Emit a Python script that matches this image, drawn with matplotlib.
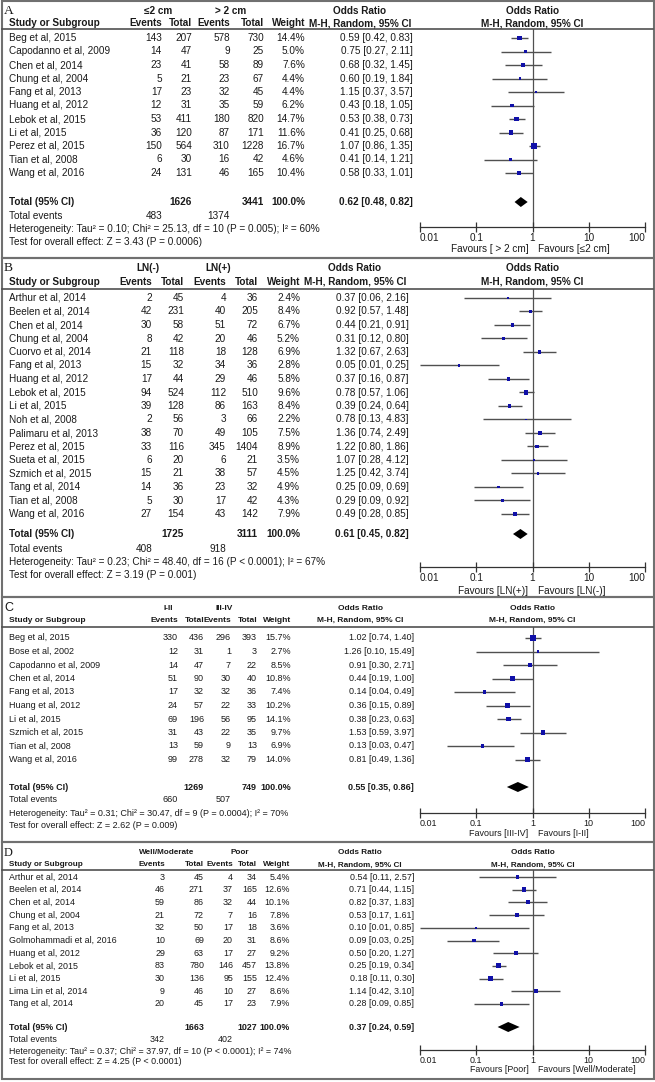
import numpy as np
import matplotlib.pyplot as plt
from matplotlib.patches import Rectangle
from matplotlib.ticker import NullLocator

plt.rcParams['font.family'] = ['Liberation Sans', 'DejaVu Sans']

# ---------------- data ----------------
# A: tumour size
a_study = ['Beg et al, 2015', 'Capodanno et al, 2009', 'Chen et al, 2014', 'Chung et al, 2004',
           'Fang et al, 2013', 'Huang et al, 2012', 'Lebok et al, 2015', 'Li et al, 2015',
           'Perez et al, 2015', 'Tian et al, 2008', 'Wang et al, 2016']
a_ev1 = [143, 14, 23, 5, 17, 12, 53, 36, 150, 6, 24]
a_tot1 = [207, 47, 41, 21, 23, 31, 411, 120, 564, 30, 131]
a_ev2 = [578, 9, 58, 23, 32, 35, 180, 87, 310, 16, 46]
a_tot2 = [730, 25, 89, 67, 45, 59, 820, 171, 1228, 42, 165]
a_w = [14.4, 5.0, 7.6, 4.4, 4.4, 6.2, 14.7, 11.6, 16.7, 4.6, 10.4]
a_or = [0.59, 0.75, 0.68, 0.60, 1.15, 0.43, 0.53, 0.41, 1.07, 0.41, 0.58]
a_lo = [0.42, 0.27, 0.32, 0.19, 0.37, 0.18, 0.38, 0.25, 0.86, 0.14, 0.33]
a_hi = [0.83, 2.11, 1.45, 1.84, 3.57, 1.05, 0.73, 0.68, 1.35, 1.21, 1.01]
a_total = [1626, 3441, 483, 1374, 0.62, 0.48, 0.82]
a_groups = ['≤2 cm', '> 2 cm']
a_het = 'Heterogeneity: Tau² = 0.10; Chi² = 25.13, df = 10 (P = 0.005); I² = 60%'
a_test = 'Test for overall effect: Z = 3.43 (P = 0.0006)'
a_fav = ['Favours [ > 2 cm]', 'Favours [≤2 cm]']

# B: lymph node status
b_study = ['Arthur et al, 2014', 'Beelen et al, 2014', 'Chen et al, 2014', 'Chung et al, 2004',
           'Cuorvo et al, 2014', 'Fang et al, 2013', 'Huang et al, 2012', 'Lebok et al, 2015',
           'Li et al, 2015', 'Noh et al, 2008', 'Palimaru et al, 2013', 'Perez et al, 2015',
           'Sueta et al, 2015', 'Szmich et al, 2015', 'Tang et al, 2014', 'Tian et al, 2008',
           'Wang et al, 2016']
b_ev1 = [2, 42, 30, 8, 21, 15, 17, 94, 39, 2, 38, 33, 6, 15, 14, 5, 27]
b_tot1 = [45, 231, 58, 42, 118, 32, 44, 524, 128, 56, 70, 116, 20, 21, 36, 30, 154]
b_ev2 = [4, 40, 51, 20, 18, 34, 29, 112, 86, 3, 49, 345, 6, 38, 23, 17, 43]
b_tot2 = [36, 205, 72, 46, 128, 36, 46, 510, 163, 66, 105, 1404, 21, 57, 32, 42, 142]
b_w = [2.4, 8.4, 6.7, 5.2, 6.9, 2.8, 5.8, 9.6, 8.4, 2.2, 7.5, 8.9, 3.5, 4.5, 4.9, 4.3, 7.9]
b_or = [0.37, 0.92, 0.44, 0.31, 1.32, 0.05, 0.37, 0.78, 0.39, 0.78, 1.36, 1.22, 1.07, 1.25, 0.25, 0.29, 0.49]
b_lo = [0.06, 0.57, 0.21, 0.12, 0.67, 0.01, 0.16, 0.57, 0.24, 0.13, 0.74, 0.80, 0.28, 0.42, 0.09, 0.09, 0.28]
b_hi = [2.16, 1.48, 0.91, 0.80, 2.63, 0.25, 0.87, 1.06, 0.64, 4.83, 2.49, 1.86, 4.12, 3.74, 0.69, 0.92, 0.85]
b_total = [1725, 3111, 408, 918, 0.61, 0.45, 0.82]
b_groups = ['LN(-)', 'LN(+)']
b_het = 'Heterogeneity: Tau² = 0.23; Chi² = 48.40, df = 16 (P < 0.0001); I² = 67%'
b_test = 'Test for overall effect: Z = 3.19 (P = 0.001)'
b_fav = ['Favours [LN(+)]', 'Favours [LN(-)]']

# C: stage
c_study = ['Beg et al, 2015', 'Bose et al, 2002', 'Capodanno et al, 2009', 'Chen et al, 2014',
           'Fang et al, 2013', 'Huang et al, 2012', 'Li et al, 2015', 'Szmich et al, 2015',
           'Tian et al, 2008', 'Wang et al, 2016']
c_ev1 = [330, 12, 14, 51, 17, 24, 69, 31, 13, 99]
c_tot1 = [436, 31, 47, 90, 32, 57, 196, 43, 59, 278]
c_ev2 = [296, 1, 7, 30, 32, 22, 56, 22, 9, 32]
c_tot2 = [393, 3, 22, 40, 36, 33, 95, 35, 13, 79]
c_w = [15.7, 2.7, 8.5, 10.8, 7.4, 10.2, 14.1, 9.7, 6.9, 14.0]
c_or = [1.02, 1.26, 0.91, 0.44, 0.14, 0.36, 0.38, 1.53, 0.13, 0.81]
c_lo = [0.74, 0.10, 0.30, 0.19, 0.04, 0.15, 0.23, 0.59, 0.03, 0.49]
c_hi = [1.40, 15.49, 2.71, 1.00, 0.49, 0.89, 0.63, 3.97, 0.47, 1.36]
c_total = [1269, 749, 660, 507, 0.55, 0.35, 0.86]
c_groups = ['I-II', 'III-IV']
c_het = 'Heterogeneity: Tau² = 0.31; Chi² = 30.47, df = 9 (P = 0.0004); I² = 70%'
c_test = 'Test for overall effect: Z = 2.62 (P = 0.009)'
c_fav = ['Favours [III-IV]', 'Favours [I-II]']

# D: differentiation
d_study = ['Arthur et al, 2014', 'Beelen et al, 2014', 'Chen et al, 2014', 'Chung et al, 2004',
           'Fang et al, 2013', 'Golmohammadi et al, 2016', 'Huang et al, 2012', 'Lebok et al, 2015',
           'Li et al, 2015', 'Lima Lin et al, 2014', 'Tang et al, 2014']
d_ev1 = [3, 46, 59, 21, 32, 10, 29, 83, 30, 9, 20]
d_tot1 = [45, 271, 86, 72, 50, 69, 63, 780, 136, 46, 45]
d_ev2 = [4, 37, 32, 7, 17, 20, 17, 146, 95, 10, 17]
d_tot2 = [34, 165, 44, 16, 18, 31, 27, 457, 155, 27, 23]
d_w = [5.4, 12.6, 10.1, 7.8, 3.6, 8.6, 9.2, 13.8, 12.4, 8.6, 7.9]
d_or = [0.54, 0.71, 0.82, 0.53, 0.10, 0.09, 0.50, 0.25, 0.18, 1.14, 0.28]
d_lo = [0.11, 0.44, 0.37, 0.17, 0.01, 0.03, 0.20, 0.19, 0.11, 0.42, 0.09]
d_hi = [2.57, 1.15, 1.83, 1.61, 0.85, 0.25, 1.27, 0.34, 0.30, 3.10, 0.85]
d_total = [1663, 1027, 342, 402, 0.37, 0.24, 0.59]
d_groups = ['Well/Moderate', 'Poor']
d_het = 'Heterogeneity: Tau² = 0.37; Chi² = 37.97, df = 10 (P < 0.0001); I² = 74%'
d_test = 'Test for overall effect: Z = 4.25 (P < 0.0001)'
d_fav = ['Favours [Poor]', 'Favours [Well/Moderate]']

panels = [
    dict(label='A', study=a_study, ev1=a_ev1, tot1=a_tot1, ev2=a_ev2, tot2=a_tot2, w=a_w,
         orr=a_or, lo=a_lo, hi=a_hi, total=a_total, groups=a_groups, het=a_het, test=a_test, fav=a_fav),
    dict(label='B', study=b_study, ev1=b_ev1, tot1=b_tot1, ev2=b_ev2, tot2=b_tot2, w=b_w,
         orr=b_or, lo=b_lo, hi=b_hi, total=b_total, groups=b_groups, het=b_het, test=b_test, fav=b_fav),
    dict(label='C', study=c_study, ev1=c_ev1, tot1=c_tot1, ev2=c_ev2, tot2=c_tot2, w=c_w,
         orr=c_or, lo=c_lo, hi=c_hi, total=c_total, groups=c_groups, het=c_het, test=c_test, fav=c_fav),
    dict(label='D', study=d_study, ev1=d_ev1, tot1=d_tot1, ev2=d_ev2, tot2=d_tot2, w=d_w,
         orr=d_or, lo=d_lo, hi=d_hi, total=d_total, groups=d_groups, het=d_het, test=d_test, fav=d_fav),
]

# ---------------- layout (pixels) ----------------
layouts = [
    dict(box=(1, 258), lab=11, head=23, line=29, row0=38, step=13.5, tot=202, ev=216, het=229,
         test=242, axis=227, fav=22, fs=7.2, hfs=7.2, cols=[162, 192, 230, 264, 305, 413],
         g=[158, 231], orh=360, labfam='Liberation Serif'),
    dict(box=(258, 597), lab=268, head=282, line=289, row0=298, step=13.5, tot=534, ev=549, het=562,
         test=575, axis=567, fav=24, fs=7.2, hfs=7.2, cols=[152, 184, 226, 258, 300, 409],
         g=[148, 218], orh=355, labfam='Liberation Serif'),
    dict(box=(597, 842), lab=608, head=620, line=627, row0=638, step=13.5, tot=787, ev=800, het=813,
         test=826, axis=813, fav=20, fs=6.5, hfs=6.0, cols=[178, 204, 231, 257, 291, 414],
         g=[168, 224], orh=360, labfam='Liberation Sans'),
    dict(box=(842, 1079), lab=853, head=865, line=870, row0=877, step=12.7, tot=1027, ev=1040, het=1051,
         test=1062, axis=1050, fav=20, fs=6.4, hfs=5.9, cols=[165, 204, 233, 257, 290, 414],
         g=[167, 240], orh=360, labfam='Liberation Serif'),
]

W, H = 655, 1082
X0, X1 = 420, 645        # forest plot x-range in pixels (0.01 .. 100)
TXT = '#1a1a1a'
BLUE = '#1010a8'
GREY = '#505050'

fig = plt.figure(figsize=(W / 100, H / 100), dpi=100)
bg = fig.add_axes([0, 0, 1, 1])
bg.set_xlim(0, W)
bg.set_ylim(H, 0)
bg.axis('off')


def txt(x, y, s, fs, ha='left', bold=False, **kw):
    bg.text(x, y, s, ha=ha, va='center', fontsize=fs, color=TXT,
            fontweight='bold' if bold else 'normal', **kw)


def fmt_ci(o, l, h):
    return f'{o:.2f} [{l:.2f}, {h:.2f}]'


for p, L in zip(panels, layouts):
    fs, hfs = L['fs'], L['hfs']
    top, bot = L['box']
    bg.add_patch(Rectangle((1.5, top), W - 3, bot - top, fill=False, ec='#707070', lw=1.5))
    txt(4, L['lab'], p['label'], fs + 2.5, family=L['labfam'])

    # headers
    txt(L['g'][0], L['lab'], p['groups'][0], hfs, ha='center', bold=True)
    txt(L['g'][1], L['lab'], p['groups'][1], hfs, ha='center', bold=True)
    txt(L['orh'], L['lab'], 'Odds Ratio', hfs, ha='center', bold=True)
    txt((X0 + X1) / 2, L['lab'], 'Odds Ratio', hfs, ha='center', bold=True)
    txt(9, L['head'], 'Study or Subgroup', hfs, bold=True)
    for x, s in zip(L['cols'][:5], ['Events', 'Total', 'Events', 'Total', 'Weight']):
        txt(x, L['head'], s, hfs, ha='right', bold=True)
    txt(L['orh'], L['head'], 'M-H, Random, 95% CI', hfs, ha='center', bold=True)
    txt((X0 + X1) / 2, L['head'], 'M-H, Random, 95% CI', hfs, ha='center', bold=True)
    bg.plot([2, W - 2], [L['line'], L['line']], color=GREY, lw=1.2)

    # study rows
    n = len(p['study'])
    rows = L['row0'] + L['step'] * np.arange(n)
    c = L['cols']
    for i in range(n):
        y = rows[i]
        txt(9, y, p['study'][i], fs)
        txt(c[0], y, str(p['ev1'][i]), fs, ha='right')
        txt(c[1], y, str(p['tot1'][i]), fs, ha='right')
        txt(c[2], y, str(p['ev2'][i]), fs, ha='right')
        txt(c[3], y, str(p['tot2'][i]), fs, ha='right')
        txt(c[4], y, f"{p['w'][i]:.1f}%", fs, ha='right')
        txt(c[5], y, fmt_ci(p['orr'][i], p['lo'][i], p['hi'][i]), fs, ha='right')

    # totals
    t1, t2, e1, e2, to, tl, th = p['total']
    txt(9, L['tot'], 'Total (95% CI)', fs, bold=True)
    txt(c[1], L['tot'], str(t1), fs, ha='right', bold=True)
    txt(c[3], L['tot'], str(t2), fs, ha='right', bold=True)
    txt(c[4], L['tot'], '100.0%', fs, ha='right', bold=True)
    txt(c[5], L['tot'], fmt_ci(to, tl, th), fs, ha='right', bold=True)
    txt(9, L['ev'], 'Total events', fs)
    txt(c[0], L['ev'], str(e1), fs, ha='right')
    txt(c[2], L['ev'], str(e2), fs, ha='right')
    txt(9, L['het'], p['het'], fs)
    txt(9, L['test'], p['test'], fs)

    # forest plot
    ax = fig.add_axes([X0 / W, 1 - L['axis'] / H, (X1 - X0) / W, (L['axis'] - L['line']) / H])
    ax.set_xscale('log')
    ax.set_xlim(0.01, 100)
    ax.set_ylim(L['axis'], L['line'])
    ax.patch.set_visible(False)
    for s in ['top', 'left', 'right']:
        ax.spines[s].set_visible(False)
    ax.spines['bottom'].set_color('#333333')
    ax.spines['bottom'].set_linewidth(0.9)
    ax.set_yticks([])
    ax.axvline(1, color=GREY, lw=0.9, zorder=1)
    ax.hlines(rows, p['lo'], p['hi'], color=GREY, lw=1.0, zorder=2)
    side_pt = 1.3 * np.sqrt(np.array(p['w'])) * 0.72
    ax.scatter(p['orr'], rows, marker='s', s=side_pt ** 2, color=BLUE, lw=0, zorder=3)
    dh = 5
    ax.fill([tl, to, th, to], [L['tot'], L['tot'] - dh, L['tot'], L['tot'] + dh], color='black',
            lw=0, zorder=3)
    ax.set_xticks([0.01, 0.1, 1, 10, 100])
    ax.xaxis.set_minor_locator(NullLocator())
    ax.set_xticklabels(['0.01', '0.1', '1', '10', '100'])
    labs = ax.get_xticklabels()
    labs[0].set_ha('left')
    labs[-1].set_ha('right')
    ax.tick_params(axis='x', direction='inout', length=7, width=0.9, color='#333333', pad=1,
                   labelsize=fs, labelcolor=TXT)
    ax.annotate(p['fav'][0], xy=(1, 0), xycoords=('data', 'axes fraction'),
                xytext=(-4, -L['fav']), textcoords='offset pixels', ha='right', va='center',
                fontsize=fs, color=TXT)
    ax.annotate(p['fav'][1], xy=(1, 0), xycoords=('data', 'axes fraction'),
                xytext=(5, -L['fav']), textcoords='offset pixels', ha='left', va='center',
                fontsize=fs, color=TXT)

fig.savefig('out.png', dpi=100)
